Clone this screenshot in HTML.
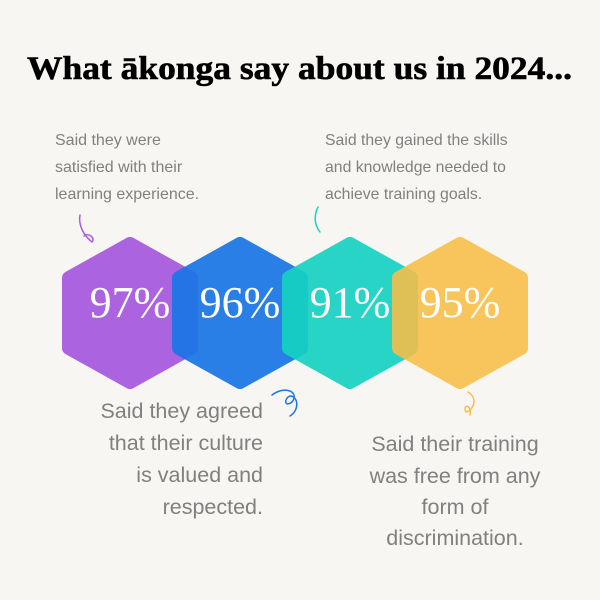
<!DOCTYPE html>
<html><head><meta charset="utf-8"><style>
html,body{margin:0;padding:0;background:#f8f6f2;}
svg{display:block}
.b{font-family:"Liberation Sans",sans-serif;fill:#808080;}
.p{font-family:"Liberation Serif",serif;fill:#fff;font-size:44px;}
</style></head><body>
<svg width="600" height="600" viewBox="0 0 600 600">
<rect width="600" height="600" fill="#f8f6f2"/>
<text x="27" y="79" textLength="545" lengthAdjust="spacingAndGlyphs" font-family="Liberation Serif,serif" font-weight="bold" font-size="33" fill="#000" stroke="#000" stroke-width="0.6">What ākonga say about us in 2024...</text>

<text class="b" font-size="16"><tspan x="55" y="145">Said they were</tspan><tspan x="55" y="172">satisfied with their</tspan><tspan x="55" y="199">learning experience.</tspan></text>
<text class="b" font-size="15.8"><tspan x="325" y="145">Said they gained the skills</tspan><tspan x="325" y="172">and knowledge needed to</tspan><tspan x="325" y="199">achieve training goals.</tspan></text>
<text class="b" font-size="21.5" text-anchor="end"><tspan x="263" y="418">Said they agreed</tspan><tspan x="263" y="450">that their culture</tspan><tspan x="263" y="482">is valued and</tspan><tspan x="263" y="514">respected.</tspan></text>
<text class="b" font-size="21.5" text-anchor="middle"><tspan x="455" y="451">Said their training</tspan><tspan x="455" y="483">was free from any</tspan><tspan x="455" y="514">form of</tspan><tspan x="455" y="545">discrimination.</tspan></text>

<g stroke-linejoin="round" stroke-width="14">
<polygon points="130,244 191,278 191,348 130,382 69,348 69,278" fill="#a95fe0" stroke="#a95fe0" opacity="0.97"/>
<polygon points="240,244 301,278 301,348 240,382 179,348 179,278" fill="#1b76e6" stroke="#1b76e6" opacity="0.93"/>
<polygon points="350,244 411,278 411,348 350,382 289,348 289,278" fill="#16d2c3" stroke="#16d2c3" opacity="0.92"/>
<polygon points="460,244 521,278 521,348 460,382 399,348 399,278" fill="#f8be48" stroke="#f8be48" opacity="0.88"/>
</g>
<text class="p" x="130" y="317" text-anchor="middle">97%</text>
<text class="p" x="240" y="317" text-anchor="middle">96%</text>
<text class="p" x="350" y="317" text-anchor="middle">91%</text>
<text class="p" x="460" y="317" text-anchor="middle">95%</text>

<g fill="none" stroke-width="1.5" stroke-linecap="round">
<path d="M80,215 C78,225 84,236 92,242 C96,238 88,232 84,236" stroke="#a95fe0"/>
<path d="M318,207 C314,215 314,225 320,232" stroke="#16d2c3"/>
<path d="M272,395 C285,385 300,392 292,402 C284,408 284,398 290,396 C298,396 300,410 290,416" stroke="#1b76e6"/>
<path d="M468,392 C478,398 474,410 466,412 C462,404 472,404 470,415" stroke="#f8be48"/>
</g>
</svg>
</body></html>
